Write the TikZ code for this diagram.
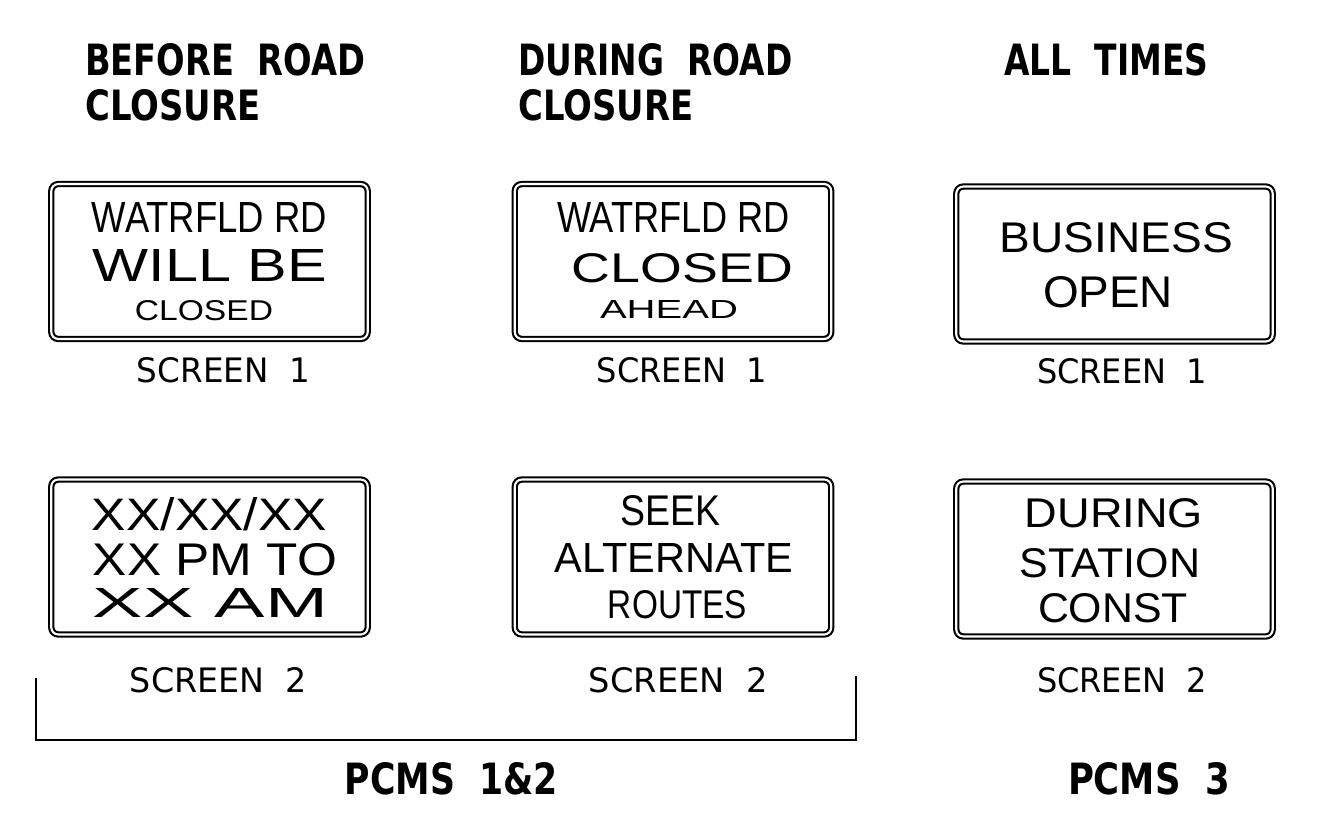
\documentclass[tikz,border=0pt]{standalone}
\usepackage{fontspec}
\usepackage{graphicx}
\setmainfont{Liberation Sans}
\newfontfamily\cadfont{DejaVu Sans}
\usetikzlibrary{positioning}
\newlength\px \setlength\px{0.02cm}
% text squeezed to a given width and cap height (in px)
\newcommand\fit[3]{\resizebox{#1\px}{#2\px}{#3}}

\begin{document}
\begin{tikzpicture}[x=0.02cm, y=-0.02cm,
  sign/.style={draw, double, line width=1.2pt, double distance=1.2pt, rounded corners=4pt, minimum width=6.33cm, minimum height=3.1cm},
  t/.style={inner sep=0pt, anchor=base},
  hd/.style={inner sep=0pt, anchor=base west, font=\cadfont\bfseries},
  lbl/.style={t, font=\cadfont}]
\useasboundingbox (0,0) rectangle (1339,824);

% headings
\node[hd] (hb1) at (85,76) {\fit{280}{32}{BEFORE~~ROAD}};
\node[hd] (hb2) at (85,121) {\fit{175}{31}{CLOSURE}};
\node[hd] (hd1) at (518,76) {\fit{274}{32}{DURING~~ROAD}};
\node[hd] (hd2) at (518,121) {\fit{175}{31}{CLOSURE}};
\node[hd] (ha1) at (1004,76) {\fit{204}{32}{ALL~~TIMES}};

% signs
\node[sign] (s11) at (209.5,261.5) {};
\node[sign] (s21) at (673,261.5) {};
\node[sign] (s31) at (1114.5,264) {};
\node[sign] (s12) at (209.5,557) {};
\node[sign] (s22) at (673,557) {};
\node[sign] (s32) at (1114.5,559) {};

% screen 1
\node[t] (s11a) at (209.5,233) {\fit{235}{30}{WATRFLD RD}};
\node[t] (s11b) at (210,282) {\fit{234}{32}{WILL BE}};
\node[t] (s11c) at (204,320) {\fit{138}{20}{CLOSED}};
\node[t] (s21a) at (673.5,233) {\fit{233}{30}{WATRFLD RD}};
\node[t] (s21b) at (682.5,282) {\fit{221}{29}{CLOSED}};
\node[t] (s21c) at (669,318) {\fit{138}{18}{AHEAD}};
\node[t] (s31a) at (1116.5,253) {\fit{233}{30}{BUSINESS}};
\node[t] (s31b) at (1108,308) {\fit{130}{31}{OPEN}};

% screen 2
\node[t] (s12a) at (209.5,530) {\fit{235}{33}{XX/XX/XX}};
\node[t] (s12b) at (215,575) {\fit{244}{32}{XX PM TO}};
\node[t] (s12c) at (210.5,617) {\fit{235}{29}{XX AM}};
\node[t] (s22a) at (670,525) {\fit{100}{30}{SEEK}};
\node[t] (s22b) at (674,572) {\fit{238}{29}{ALTERNATE}};
\node[t] (s22c) at (677.5,618) {\fit{139}{28}{ROUTES}};
\node[t] (s32a) at (1114,527) {\fit{178}{29}{DURING}};
\node[t] (s32b) at (1110,577) {\fit{180}{29}{STATION}};
\node[t] (s32c) at (1113,622) {\fit{150}{29}{CONST}};

% screen labels
\foreach \n/\x/\y/\w in {l11/223.5/382/173, l21/682/382/170, l31/1122/383/170}
  \node[lbl] (\n) at (\x,\y) {\fit{\w}{25}{SCREEN~~1}};
\foreach \n/\x/\y/\w in {l12/218.5/692/177, l22/678.5/692/179, l32/1122/692/170}
  \node[lbl] (\n) at (\x,\y) {\fit{\w}{25}{SCREEN~~2}};

% bracket
\coordinate (blt) at (36,678);
\coordinate (blb) at (36,740);
\coordinate (brb) at (856,740);
\coordinate (brt) at (856,676);
\draw[line width=1.1pt] (blt) -- (blb) -- (brb) -- (brt);

\node[lbl, font=\cadfont\bfseries] (p12) at (451.5,794) {\fit{213}{32}{PCMS~~1\&2}};
\node[lbl, font=\cadfont\bfseries] (p3) at (1149,794) {\fit{162}{32}{PCMS~~3}};
\end{tikzpicture}
\end{document}
